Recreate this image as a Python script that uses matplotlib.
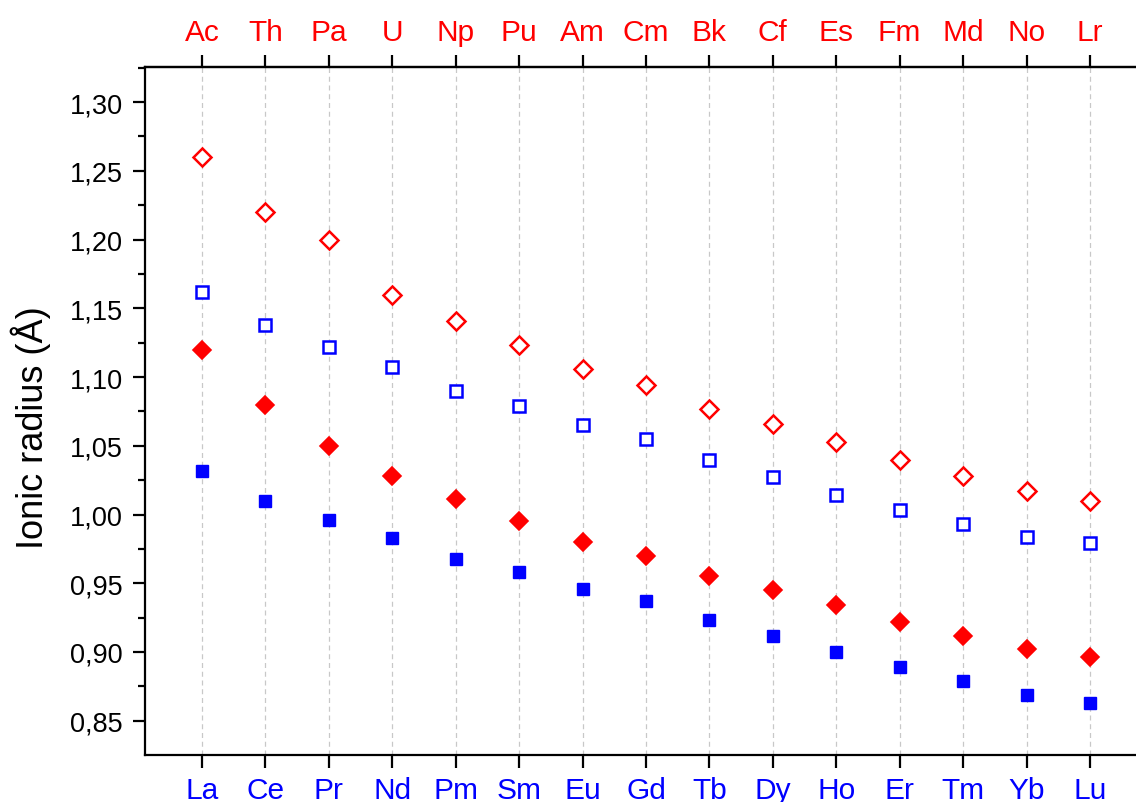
import matplotlib
matplotlib.use("Agg")
import matplotlib.pyplot as plt
from matplotlib.ticker import FixedLocator, MultipleLocator, FuncFormatter

plt.rcParams['font.family'] = ['Liberation Sans', 'DejaVu Sans']

lanthanides = ["La", "Ce", "Pr", "Nd", "Pm", "Sm", "Eu", "Gd", "Tb", "Dy", "Ho", "Er", "Tm", "Yb", "Lu"]
actinides = ["Ac", "Th", "Pa", "U", "Np", "Pu", "Am", "Cm", "Bk", "Cf", "Es", "Fm", "Md", "No", "Lr"]

an_open = [1.260, 1.220, 1.200, 1.160, 1.141, 1.123, 1.106, 1.094, 1.077, 1.066, 1.053, 1.040, 1.028, 1.017, 1.010]
ln_open = [1.162, 1.138, 1.122, 1.107, 1.090, 1.079, 1.065, 1.055, 1.040, 1.027, 1.014, 1.003, 0.993, 0.984, 0.979]
an_filled = [1.120, 1.080, 1.050, 1.028, 1.011, 0.995, 0.980, 0.970, 0.955, 0.945, 0.934, 0.922, 0.912, 0.902, 0.896]
ln_filled = [1.032, 1.010, 0.996, 0.983, 0.968, 0.958, 0.946, 0.937, 0.923, 0.912, 0.900, 0.889, 0.879, 0.869, 0.863]

RED = "#ff0000"
BLUE = "#0000ff"

fig = plt.figure(figsize=(11.36, 8.03), dpi=100)
W, H = 1136, 803
left, right, top, bottom = 145, 1147, 68, 755.7
ax = fig.add_axes([left / W, 1 - bottom / H, (right - left) / W, (bottom - top) / H])

x = list(range(1, len(lanthanides) + 1))

for xi in x:
    ax.axvline(xi, color="#c8c8c8", lw=0.9, ls=(0, (4, 3)), zorder=0)

ax.plot(x, an_open, ls="none", marker="D", ms=9.0, mfc="white", mec=RED, mew=1.8, zorder=3)
ax.plot(x, ln_open, ls="none", marker="s", ms=8.2, mfc="white", mec=BLUE, mew=1.8, zorder=3)
ax.plot(x, an_filled, ls="none", marker="D", ms=9.2, mfc=RED, mec=RED, mew=1.2, zorder=3)
ax.plot(x, ln_filled, ls="none", marker="s", ms=9.2, mfc=BLUE, mec=BLUE, mew=1.0, zorder=3)

ax.set_xlim(0.1, 15.9)
ax.set_ylim(0.8253, 1.3255)

ax.xaxis.set_major_locator(FixedLocator(x))
ax.set_xticklabels(lanthanides, color=BLUE, fontsize=21.5)
ax.yaxis.set_major_locator(MultipleLocator(0.05))
ax.yaxis.set_minor_locator(MultipleLocator(0.025))
ax.yaxis.set_major_formatter(FuncFormatter(lambda v, p: f"{v:.2f}".replace(".", ",")))
ax.tick_params(axis="y", which="major", direction="out", length=9, width=1.6, labelsize=19.5, pad=7)
ax.tick_params(axis="y", which="minor", direction="out", length=5, width=1.6)
ax.tick_params(axis="x", which="major", direction="out", length=9, width=1.6, pad=6)

for s in ["left", "bottom", "top"]:
    ax.spines[s].set_linewidth(1.6)
ax.spines["right"].set_visible(False)

axt = ax.secondary_xaxis("top")
axt.xaxis.set_major_locator(FixedLocator(x))
axt.set_xticklabels(actinides, color=RED, fontsize=21.5)
axt.tick_params(axis="x", direction="out", length=9, width=1.6, pad=6)
axt.spines["top"].set_linewidth(1.6)

fig.text(43 / W, 1 - 428 / H, "Ionic radius (Å)", rotation=90, rotation_mode="anchor",
         ha="center", va="baseline", fontsize=26)

fig.savefig("out.png", dpi=100)
